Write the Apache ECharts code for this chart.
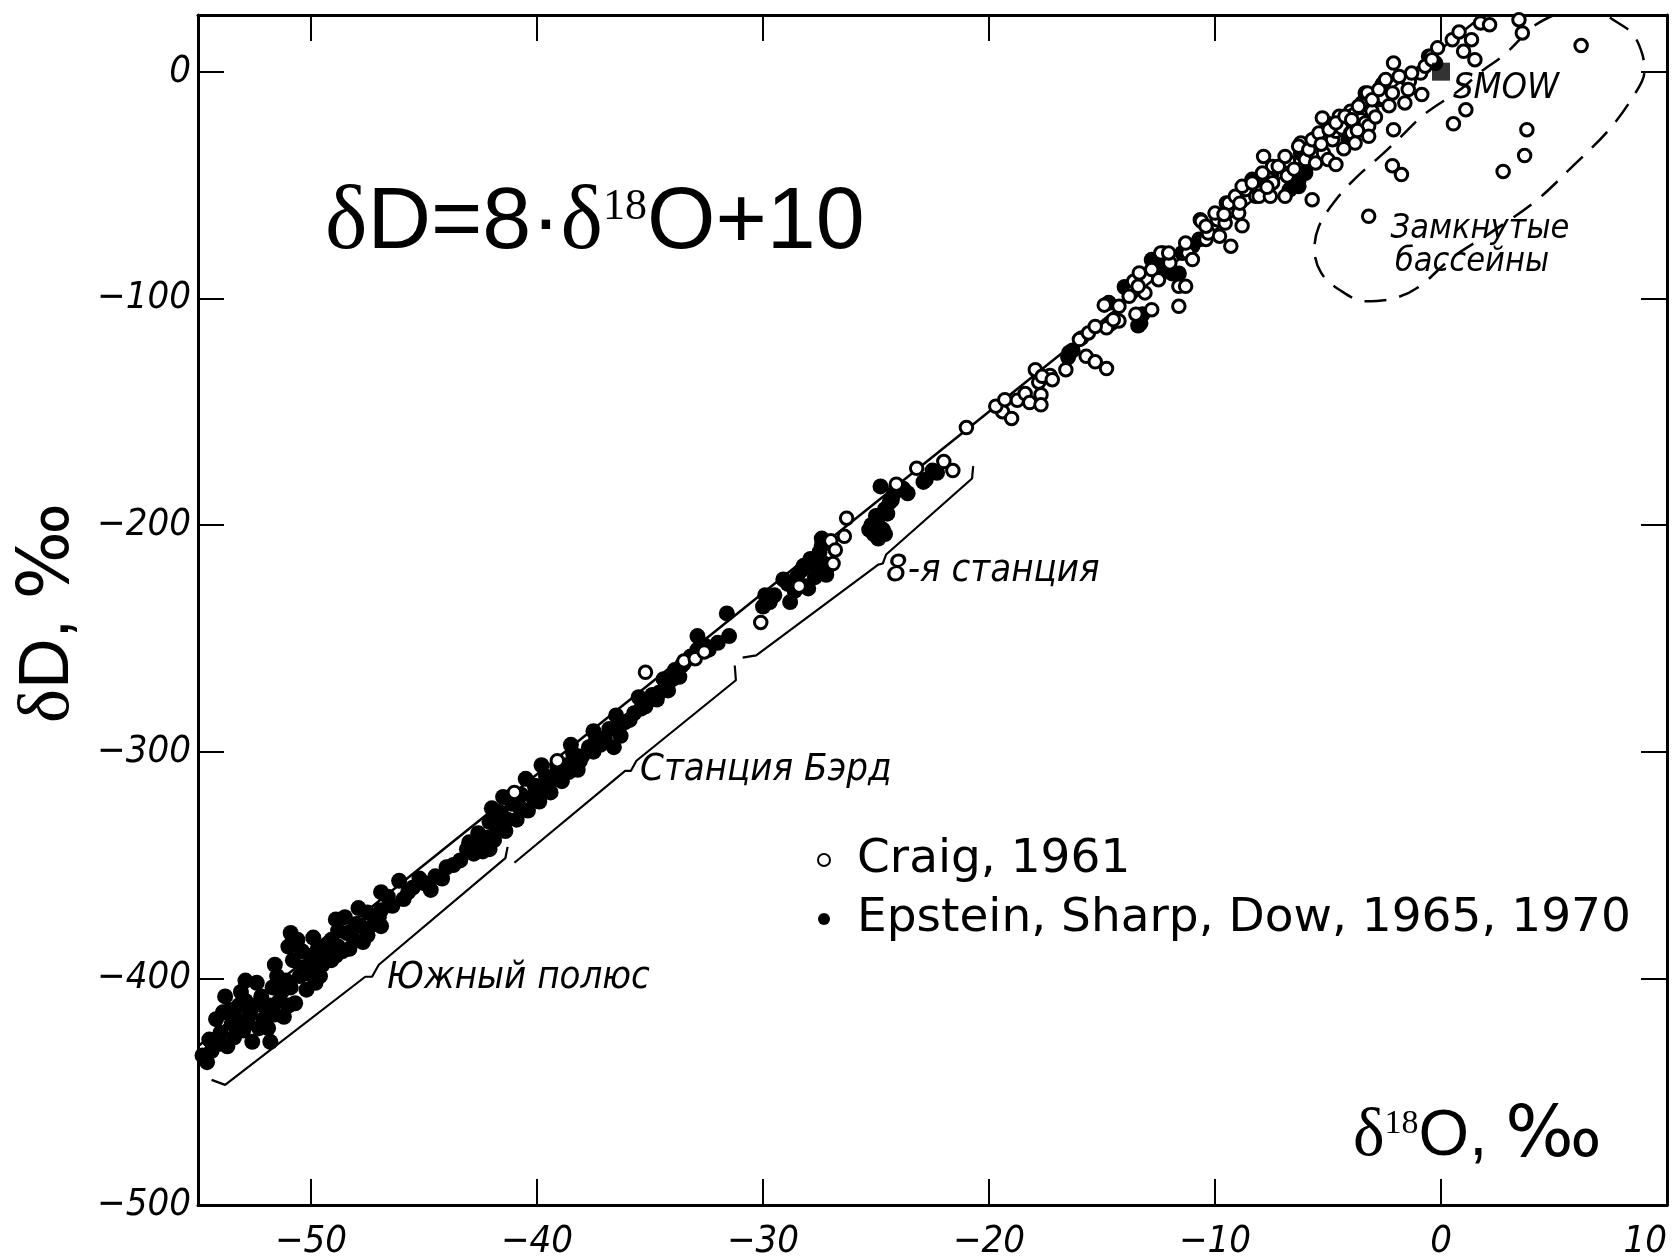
<!DOCTYPE html>
<html>
<head>
<meta charset="utf-8">
<script src="https://cdn.jsdelivr.net/npm/echarts@6/dist/echarts.min.js"></script>
<style>
html,body{margin:0;padding:0;background:#fff;overflow:hidden;}
#chart{width:1673px;height:1260px;}
</style>
</head>
<body>
<div id="chart"></div>
<script>

// ticks
var xTicks = [-50, -40, -30, -20, -10, 0, 10];
var yTicks = [-500, -400, -300, -200, -100, 0];

// dD = 8*d18O + 10
var mwlLine = [[-55, -430], [1.875, 25]];

// Epstein, Sharp, Dow (filled)
var epsteinSouthPole = [
	[-54.8,-434],[-54.5,-427],[-54.4,-432],[-54.2,-418],[-54.0,-424],[-53.7,-430],[-53.5,-420],[-53.4,-426],
	[-53.2,-412],[-53.0,-423],[-52.9,-410],[-52.7,-416],[-52.6,-428],[-52.4,-402],[-52.2,-408],[-52.1,-418],
	[-51.9,-422],[-51.8,-412],[-51.8,-428],[-51.6,-416],[-51.5,-399],[-51.3,-406],[-51.1,-401],[-51.0,-412],
	[-51.0,-386],[-50.8,-392],[-50.7,-411],[-50.6,-383],[-50.5,-399],[-50.3,-395],[-50.2,-405],[-50.0,-390],
	[-49.9,-396],[-49.7,-387],[-49.6,-399],[-49.4,-389],[-49.1,-383],[-49.1,-392],[-48.8,-379],[-48.8,-386],
	[-48.6,-388],[-48.5,-373],[-48.3,-387],[-48.1,-383],[-47.8,-377],[-47.5,-381],[-47.5,-371],[-47.2,-376],
	[-46.9,-370],[-46.9,-377],[-46.6,-364],[-46.1,-357],[-45.9,-365],[-45.5,-360],[-45.0,-358],[-44.7,-361],
	[-44.5,-355],[-44.0,-351],[-43.4,-348],[-42.8,-345],[-42.1,-343],
	[-54.6,-437],[-54.1,-429],[-53.9,-415],[-53.6,-414],[-53.3,-418],[-53.1,-406],[-52.8,-420],[-52.5,-412],
	[-52.3,-422],[-52.0,-413],[-51.7,-404],[-51.4,-410],[-51.2,-417],[-50.9,-404],[-50.4,-388],[-50.1,-398],
	[-49.8,-402],[-49.5,-394],[-49.3,-385],[-48.9,-390],[-48.4,-380],[-48.0,-376],[-47.7,-384],[-47.0,-373],
	[-46.4,-368],[-45.7,-362],[-45.2,-356],[-44.2,-356],[-43.7,-350],[-43.1,-343],
	[-53.8,-408],[-52.9,-401],[-51.6,-394],[-50.9,-380],[-49.9,-382],[-48.9,-374],[-47.9,-369],[-46.9,-362]
];
var epsteinByrd = [
	[-43.0,-340],[-42.6,-336],[-42.4,-344],[-42.1,-331],[-41.9,-339],[-41.6,-327],[-41.4,-335],[-41.1,-323],
	[-40.9,-330],[-40.7,-319],[-40.4,-326],[-40.1,-315],[-39.9,-322],[-39.6,-311],[-39.4,-318],[-39.1,-307],
	[-38.9,-313],[-38.7,-306],[-38.4,-301],[-38.2,-308],[-38.0,-302],[-37.7,-298],[-37.4,-295],[-37.0,-294],
	[-36.8,-290],[-36.6,-298],[-36.3,-293],[-36.1,-287],[-35.7,-283],[-35.4,-281],[-35.0,-277],[-34.7,-277],
	[-34.6,-274],[-34.3,-271],[-34.2,-273],[-34.0,-268],[-33.9,-264],[-33.7,-267],[-33.6,-262],[-33.5,-261],
	[-33.2,-258],[-32.9,-249],[-32.9,-255],[-32.6,-253],[-32.4,-255],[-32.0,-252],[-31.6,-239],[-31.5,-249],
	[-42.7,-341],[-42.2,-338],[-41.8,-333],[-41.3,-330],[-40.8,-324],[-40.2,-320],[-39.7,-316],[-39.2,-312],
	[-38.6,-309],[-38.1,-304],[-37.5,-300],[-37.2,-297],[-36.4,-289],[-35.9,-286],[-35.2,-280],[-34.9,-275],
	[-34.4,-268],[-33.8,-265],
	[-42.0,-325],[-41.5,-320],[-40.5,-312],[-39.8,-306],[-38.5,-297],[-37.5,-291],[-36.5,-284],[-35.5,-276]
];
var epsteinStation8 = [
	[-30.0,-236],[-29.9,-231],[-29.5,-231],[-29.1,-224],[-28.8,-234],[-28.6,-229],[-28.3,-220],[-28.2,-218],
	[-28.1,-227],[-28.0,-228],[-27.7,-223],[-27.6,-220],[-27.5,-212],[-27.4,-209],[-27.4,-206],[-27.3,-217],
	[-27.2,-222],[-27.1,-218],[-25.3,-202],[-25.2,-200],[-25.0,-196],[-24.9,-196],[-24.9,-206],[-24.8,-183],
	[-24.8,-203],[-24.7,-202],[-24.6,-204],[-24.5,-195],[-24.4,-190],[-24.3,-189],[-24.1,-183],[-23.8,-184],
	[-23.6,-186],[-22.9,-181],[-22.8,-180],[-22.5,-176],[-22.3,-177],
	[-29.7,-234],[-28.9,-226],[-28.5,-223],[-27.9,-215],[-25.1,-204],[-24.95,-199],[-24.6,-193],[-24.2,-186]
];
var epsteinOther = [
	[-16.3,-123],[-16.5,-126],[-14.7,-102],[-14.6,-111],[-13.3,-111],[-13.2,-107],[-14.0,-95],[-12.3,-83],
	[-11.6,-89],[-11.0,-77],[-10.7,-74],[-8.2,-48],[-7.5,-45],[-6.2,-36],[-6.3,-48],[-6.7,-52],[-5.0,-23],[-4.1,-30],
	[-12.8,-83],[-12.2,-87],[-11.45,-80],[-11.9,-89],[-13.4,-112],[-16.45,-124],[-8.35,-47.6],[-6.3,-50.6],
	[-6.0,-44.7],[-0.25,3.8]
];

// Craig (open)
var craigAntarctic = [
	[-41.0,-318],[-39.1,-304],[-35.2,-265],[-33.5,-260],[-33.0,-259],[-32.6,-256],[-30.1,-243],[-28.4,-227],
	[-27.0,-207],[-26.9,-217],[-26.8,-211],[-26.4,-205],[-26.3,-197],[-24.1,-182],[-23.2,-175],[-22.0,-172],[-21.6,-176]
];
var craigMain = [
	[-21.0,-157],[-19.4,-150],[-19.0,-153],[-18.75,-145],[-18.4,-142],[-18.2,-146],[-17.8,-137],[-17.7,-142.5],
	[-17.7,-147],[-17.3,-134],[-16.6,-131.5],[-15.9,-117.5],[-15.7,-125.6],[-15.3,-128],[-14.8,-131],[-14.8,-113],
	[-14.25,-110],[-14.9,-103],[-14.5,-109.4],[-13.6,-92.5],[-13.5,-107],[-12.8,-105],[-13.7,-97.6],[-13.1,-97.6],
	[-13.4,-94.7],[-12.3,-80],[-12.4,-80],[-12.0,-84.4],[-11.6,-103.5],[-11.6,-94.7],[-11.3,-94.7],[-11.2,-80],
	[-10.65,-65.3],[-10.6,-66],[-10.4,-74],[-10.3,-71.2],[-9.9,-65.3],[-9.8,-72.6],[-9.5,-57.9],[-9.4,-58],
	[-9.3,-77],[-8.95,-62.4],[-8.7,-52.1],[-8.65,-52],[-8.8,-68],[-8.2,-55],[-7.85,-37.4],[-8.05,-55],
	[-7.55,-55],[-7.55,-47.6],[-7.45,-41.8],[-7.45,-49],[-6.9,-55],[-6.8,-46],[-6.75,-39.6],[-6.2,-31.5],
	[-6.0,-38.8],[-5.6,-35.9],[-5.55,-29.3],[-5.55,-40.3],[-5.25,-20.4],[-5.2,-36],[-5.0,-38.8],[-4.8,-30],
	[-4.65,-41],[-4.65,-26.3],[-4.5,-19.7],[-4.4,-24.8],[-4.0,-17.5],[-4.0,-27.1],[-3.95,-27],[-3.85,-18.9],
	[-3.8,-31.5],[-3.55,-21.2],[-3.5,-13.8],[-3.35,-9.4],[-3.35,-22.6],[-3.25,-9.4],[-3.2,-24],[-3.2,-28.5],
	[-3.05,-17.5],[-2.7,-12.3],[-2.6,-5.7],[-2.55,-11.6],[-2.55,-5.0],[-2.15,-9.4],[-2.1,3.8],[-1.6,-13.8],
	[-1.45,-4.3],[-1.4,-4.3],[-0.9,-0.6],[-0.85,-10.1],[-0.55,6.8],[-0.45,6.8],[-0.15,10.5],[0.5,14.1],
	[0.8,17.5],[1.0,9.0],[1.35,14.1],[1.5,5.3],[1.75,21.5],[2.15,20.7],[3.45,22.9],[3.6,17.1],
	[-19.7,-147.6],[-19.3,-144.7],[-17.95,-131.5],[-17.65,-134.4],[-17.2,-135.9],[-16.0,-118.2],[-15.6,-115.3],
	[-15.3,-112.4],[-14.25,-103.5],[-13.8,-99.1],[-13.35,-88.8],[-12.8,-87.3],[-12.5,-91.8],[-12.05,-80],
	[-11.3,-75.6],[-11.0,-82.9],[-10.4,-68.2],[-10.0,-62.4],[-9.55,-66.8],[-9.1,-55],[-8.8,-50.6],[-8.35,-49.1],
	[-7.9,-44.7],[-7.2,-41.8],[-6.9,-37.4],[-6.3,-32.9],[-5.85,-34.4],[-5.7,-30],[-5.4,-27.1],[-4.95,-25.6],
	[-4.65,-22.6],[-4.25,-19.7],[-3.95,-21.2],[-3.65,-15.3],[-3.05,-12.4],[-2.75,-7.9],[-2.45,-3.5],
	[-1.85,-2.1],[-1.45,-7.9],[-1.3,-0.6],[-0.7,2.4],[-0.4,5.3],
	[-9.6,-63],[-8.9,-58],[-7.7,-51],[-6.5,-43],[-5.3,-32],[-4.3,-34],[-3.7,-26],[-2.9,-20],[-2.3,-15]
];
var craigClosedBasins = [
	[6.2,11.5],[3.8,-25.6],[3.7,-37],[2.75,-44],[1.1,-16.8],[0.55,-23],[-2.1,-25.6],[-2.15,-41.5],
	[-1.75,-45.4],[-5.7,-56.5],[-3.2,-63.8]
];
var smow = [[0, 0]];

// brackets under the sample groups
var bracketSouthPole = [[-54.4,-444.8],[-53.8,-447.0],[-47.6,-399.3],[-47.3,-399.3],[-47.0,-394.0],[-41.4,-347],[-41.3,-342]];
var bracketByrd = [[-41.0,-349],[-36.1,-308.5],[-35.85,-308.5],[-35.6,-304],[-31.2,-268.5],[-31.25,-262]];
var bracketStation8 = [[-30.9,-258.5],[-30.3,-257.5],[-24.9,-217.5],[-24.7,-217],[-24.55,-213],[-20.75,-179.5],[-20.7,-174]];

// closed basins outline
var closedBasinsOutline = [
	[5.0,25],[4.1,20.0],[2.8,7.5],[1.8,0.2],[0.85,-7.9],[-0.75,-18.9],[-1.75,-28.5],[-2.7,-37.4],
	[-3.7,-46.2],[-4.65,-56.5],[-5.4,-68.2],[-5.6,-78.5],[-5.3,-88.8],[-4.5,-96.2],[-3.35,-101.3],
	[-2.05,-99.9],[-0.95,-94.7],[0.5,-82],[2.2,-71],[4.2,-57],[5.9,-41],[7.4,-26],[8.5,-11],[9.0,0],
	[8.9,8],[8.45,17],[7.6,23],[7.3,25]
];

var narrowFont = "'Liberation Sans Narrow', 'DejaVu Sans Condensed', sans-serif";

function fmt(v) {
	return v < 0 ? '\u2212' + (-v) : '' + v;
}

var chart = echarts.init(document.getElementById('chart'));

var labelStyle = {
	fontFamily: narrowFont,
	fontStyle: 'italic',
	fontSize: 38,
	color: '#000'
};

function bracket(data) {
	return {
		type: 'line', data: data, symbol: 'none', silent: true, z: 2,
		lineStyle: { color: '#000', width: 2.2 }
	};
}

function frameAxis(pos, min, max, ticks) {
	return {
		type: 'value', min: min, max: max, position: pos,
		axisLine: { onZero: false, lineStyle: { color: '#000', width: 3 } },
		axisTick: { inside: true, length: 26, customValues: ticks, lineStyle: { color: '#000', width: 2 } },
		axisLabel: { show: false },
		splitLine: { show: false }
	};
}

var xBottom = frameAxis('bottom', -55, 10, xTicks);
xBottom.axisLabel = Object.assign({ customValues: xTicks, margin: 18, formatter: fmt, alignMaxLabel: 'right' }, labelStyle);
var yLeft = frameAxis('left', -500, 25, yTicks);
yLeft.axisLabel = Object.assign({ customValues: yTicks, margin: 7, formatter: fmt }, labelStyle);

var option = {
	backgroundColor: '#fff',
	animation: false,
	grid: { left: 198, right: 6, top: 15, bottom: 55, outerBoundsMode: 'none' },
	xAxis: [xBottom, frameAxis('top', -55, 10, xTicks)],
	yAxis: [yLeft, frameAxis('right', -500, 25, yTicks)],
	legend: {
		orient: 'vertical', left: 812, top: 829,
		itemWidth: 12, itemHeight: 12, itemGap: 7,
		selectedMode: false,
		textStyle: { fontFamily: "'DejaVu Sans', Verdana, sans-serif", fontSize: 47, color: '#000', lineHeight: 52, padding: [0, 0, 0, 22] },
		data: ['Craig, 1961', 'Epstein, Sharp, Dow, 1965, 1970']
	},
	series: [
		{
			type: 'line', data: mwlLine, symbol: 'none', silent: true, z: 1,
			lineStyle: { color: '#000', width: 2.5 }
		},
		bracket(bracketSouthPole),
		bracket(bracketByrd),
		bracket(bracketStation8),
		{
			type: 'line', data: closedBasinsOutline, symbol: 'none', silent: true, smooth: 0.35, z: 2,
			lineStyle: { color: '#000', width: 2.5, type: [22, 13] }
		},
		{
			name: 'Epstein, Sharp, Dow, 1965, 1970', type: 'scatter', z: 3,
			data: epsteinSouthPole.concat(epsteinByrd, epsteinStation8, epsteinOther),
			symbol: 'circle', symbolSize: 16,
			itemStyle: { color: '#000', opacity: 1 }
		},
		{
			name: 'Craig, 1961', type: 'scatter', z: 4,
			data: craigAntarctic.concat(craigMain, craigClosedBasins),
			symbol: 'circle', symbolSize: 12.5,
			itemStyle: { color: '#fff', borderColor: '#000', borderWidth: 3, opacity: 1 }
		},
		{
			type: 'scatter', data: smow, symbol: 'rect', symbolSize: 18, z: 5,
			itemStyle: { color: '#000' }
		}
	],
	graphic: [
		{
			type: 'text', x: 325, y: 224, z: 10,
			style: {
				text: '{d|\u03b4}D=8\u00b7{d|\u03b4}{s|18}O+10',
				fontFamily: "'Liberation Sans', Arial, sans-serif", fontSize: 88, fill: '#000',
				verticalAlign: 'middle',
				rich: {
					d: { fontFamily: "'Liberation Serif', serif", fontSize: 90 },
					s: { fontFamily: "'Liberation Serif', serif", fontSize: 44, padding: [0, 0, 34, 0] }
				}
			}
		},
		{
			type: 'text', x: 1353, y: 1137, z: 10,
			style: {
				text: '{d|\u03b4}{s|18}O, {p|\u2030}',
				fontFamily: "'Liberation Sans', Arial, sans-serif", fontSize: 65, fill: '#000',
				verticalAlign: 'middle',
				rich: {
					d: { fontFamily: "'Liberation Serif', serif", fontSize: 67 },
					s: { fontFamily: "'Liberation Serif', serif", fontSize: 34, padding: [0, 0, 26, 0] },
					p: { fontFamily: "'DejaVu Sans', sans-serif", fontSize: 72 }
				}
			}
		},
		{
			type: 'text', x: 49, y: 613, rotation: Math.PI / 2, z: 10,
			style: {
				text: '{d|\u03b4}D, {p|\u2030}',
				fontFamily: "'Liberation Sans', Arial, sans-serif", fontSize: 70, fill: '#000',
				align: 'center', verticalAlign: 'middle',
				rich: {
					d: { fontFamily: "'Liberation Serif', serif", fontSize: 72 },
					p: { fontFamily: "'DejaVu Sans', sans-serif", fontSize: 72 }
				}
			}
		},
		{ type: 'text', x: 1506, y: 89, z: 10, style: { text: 'SMOW', font: "italic 36px " + narrowFont, fill: '#000', align: 'center', verticalAlign: 'middle' } },
		{ type: 'text', x: 1480, y: 229, z: 10, style: { text: 'Замкнутые', font: "italic 34px " + narrowFont, fill: '#000', align: 'center', verticalAlign: 'middle' } },
		{ type: 'text', x: 1472, y: 262, z: 10, style: { text: 'бассейны', font: "italic 34px " + narrowFont, fill: '#000', align: 'center', verticalAlign: 'middle' } },
		{ type: 'text', x: 886, y: 571, z: 10, style: { text: '8-я станция', font: "italic 38px " + narrowFont, fill: '#000', verticalAlign: 'middle' } },
		{ type: 'text', x: 640, y: 770, z: 10, style: { text: 'Станция Бэрд', font: "italic 38px " + narrowFont, fill: '#000', verticalAlign: 'middle' } },
		{ type: 'text', x: 387, y: 978, z: 10, style: { text: 'Южный полюс', font: "italic 38px " + narrowFont, fill: '#000', verticalAlign: 'middle' } }
	]
};

chart.setOption(option);
</script>
</body>
</html>
